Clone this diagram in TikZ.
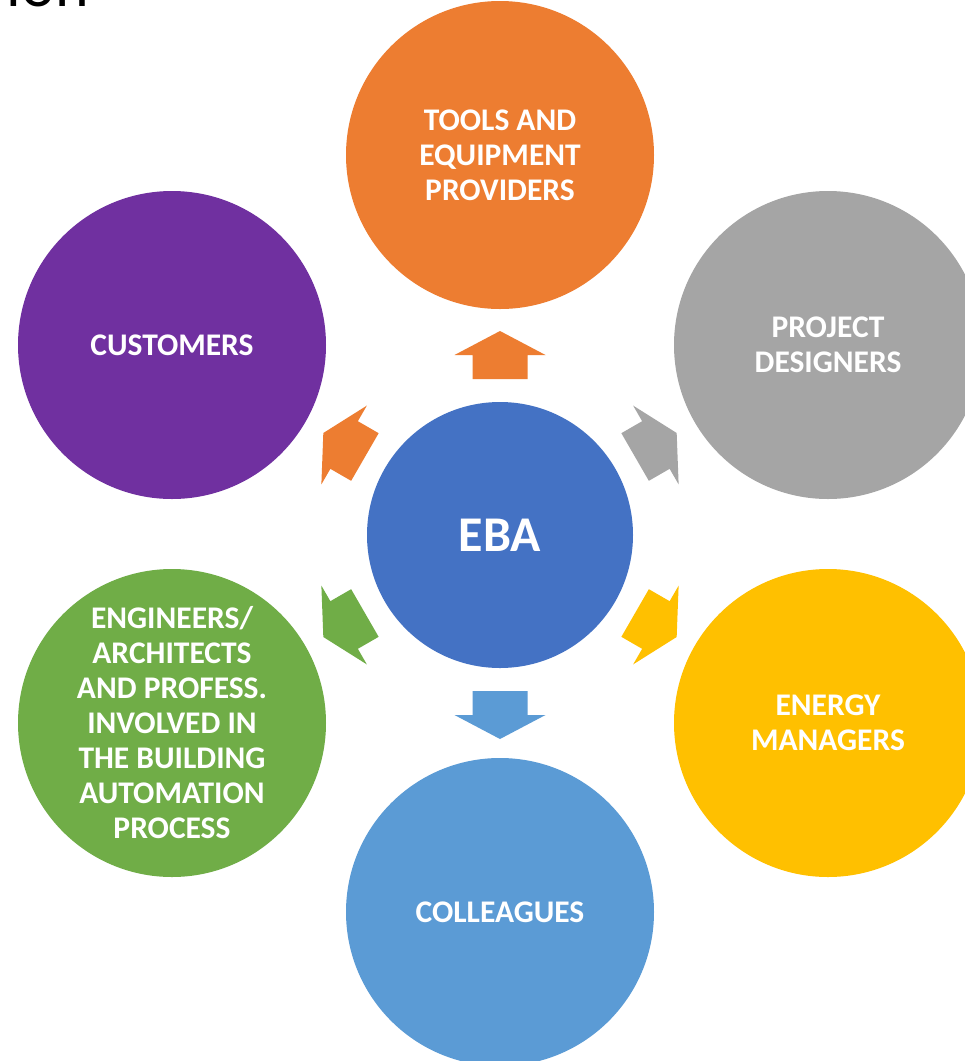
\documentclass[tikz,border=0pt]{standalone}
\usepackage{fontspec}
\setmainfont{Carlito}
\definecolor{hubblue}{HTML}{4472C4}
\definecolor{offorange}{HTML}{ED7D31}
\definecolor{offgray}{HTML}{A5A5A5}
\definecolor{offgold}{HTML}{FFC000}
\definecolor{offblue}{HTML}{5B9BD5}
\definecolor{offgreen}{HTML}{70AD47}
\definecolor{offpurple}{HTML}{7030A0}
\tikzset{
  bubble/.style={circle, minimum size=308pt, inner sep=0pt, text=white,
    align=center, font=\fontsize{31.5}{35}\selectfont\bfseries},
  hub/.style={circle, fill=hubblue, minimum size=266pt, inner sep=0pt,
    text=white, font=\fontsize{50}{60}\selectfont\bfseries},
}
% block arrow pointing outward from the hub at a given angle
\newcommand{\blockarrow}[3]{%
  \begin{scope}[shift={(#1)}, rotate=#2]
    \fill[#3] (156,-27.5) -- (180,-27.5) -- (180,-45.5) -- (204,0)
      -- (180,45.5) -- (180,27.5) -- (156,27.5) -- cycle;
  \end{scope}}
\begin{document}
\begin{tikzpicture}[x=1pt, y=-1pt]
  \useasboundingbox (0,0) rectangle (965,1061);
  \clip (0,0) rectangle (965,1061);
  \fill[white] (0,0) rectangle (965,1061);

  % tail of the heading
  \node[anchor=base east, inner sep=0pt, font=\fontsize{64}{70}\selectfont] (head) at (89,6) {ion};

  % hub
  \node[hub] (eba) at (500,535) {EBA};

  % surrounding stakeholders
  \node[bubble, fill=offorange] (tools) at (500,155) {TOOLS AND\\EQUIPMENT\\PROVIDERS};
  \node[bubble, fill=offgray] (design) at (828,345) {PROJECT\\DESIGNERS};
  \node[bubble, fill=offgold] (energy) at (828,723) {ENERGY\\MANAGERS};
  \node[bubble, fill=offblue] (coll) at (500,912) {COLLEAGUES};
  \node[bubble, fill=offgreen] (eng) at (172,723) {ENGINEERS/\\ARCHITECTS\\AND PROFESS.\\INVOLVED IN\\THE BUILDING\\AUTOMATION\\PROCESS};
  \node[bubble, fill=offpurple] (cust) at (172,345) {CUSTOMERS};

  % arrows from the hub towards each stakeholder
  \blockarrow{eba.center}{90}{offorange}
  \blockarrow{eba.center}{30}{offgray}
  \blockarrow{eba.center}{-30}{offgold}
  \blockarrow{eba.center}{-90}{offblue}
  \blockarrow{eba.center}{-150}{offgreen}
  \blockarrow{eba.center}{150}{offorange}
\end{tikzpicture}
\end{document}
